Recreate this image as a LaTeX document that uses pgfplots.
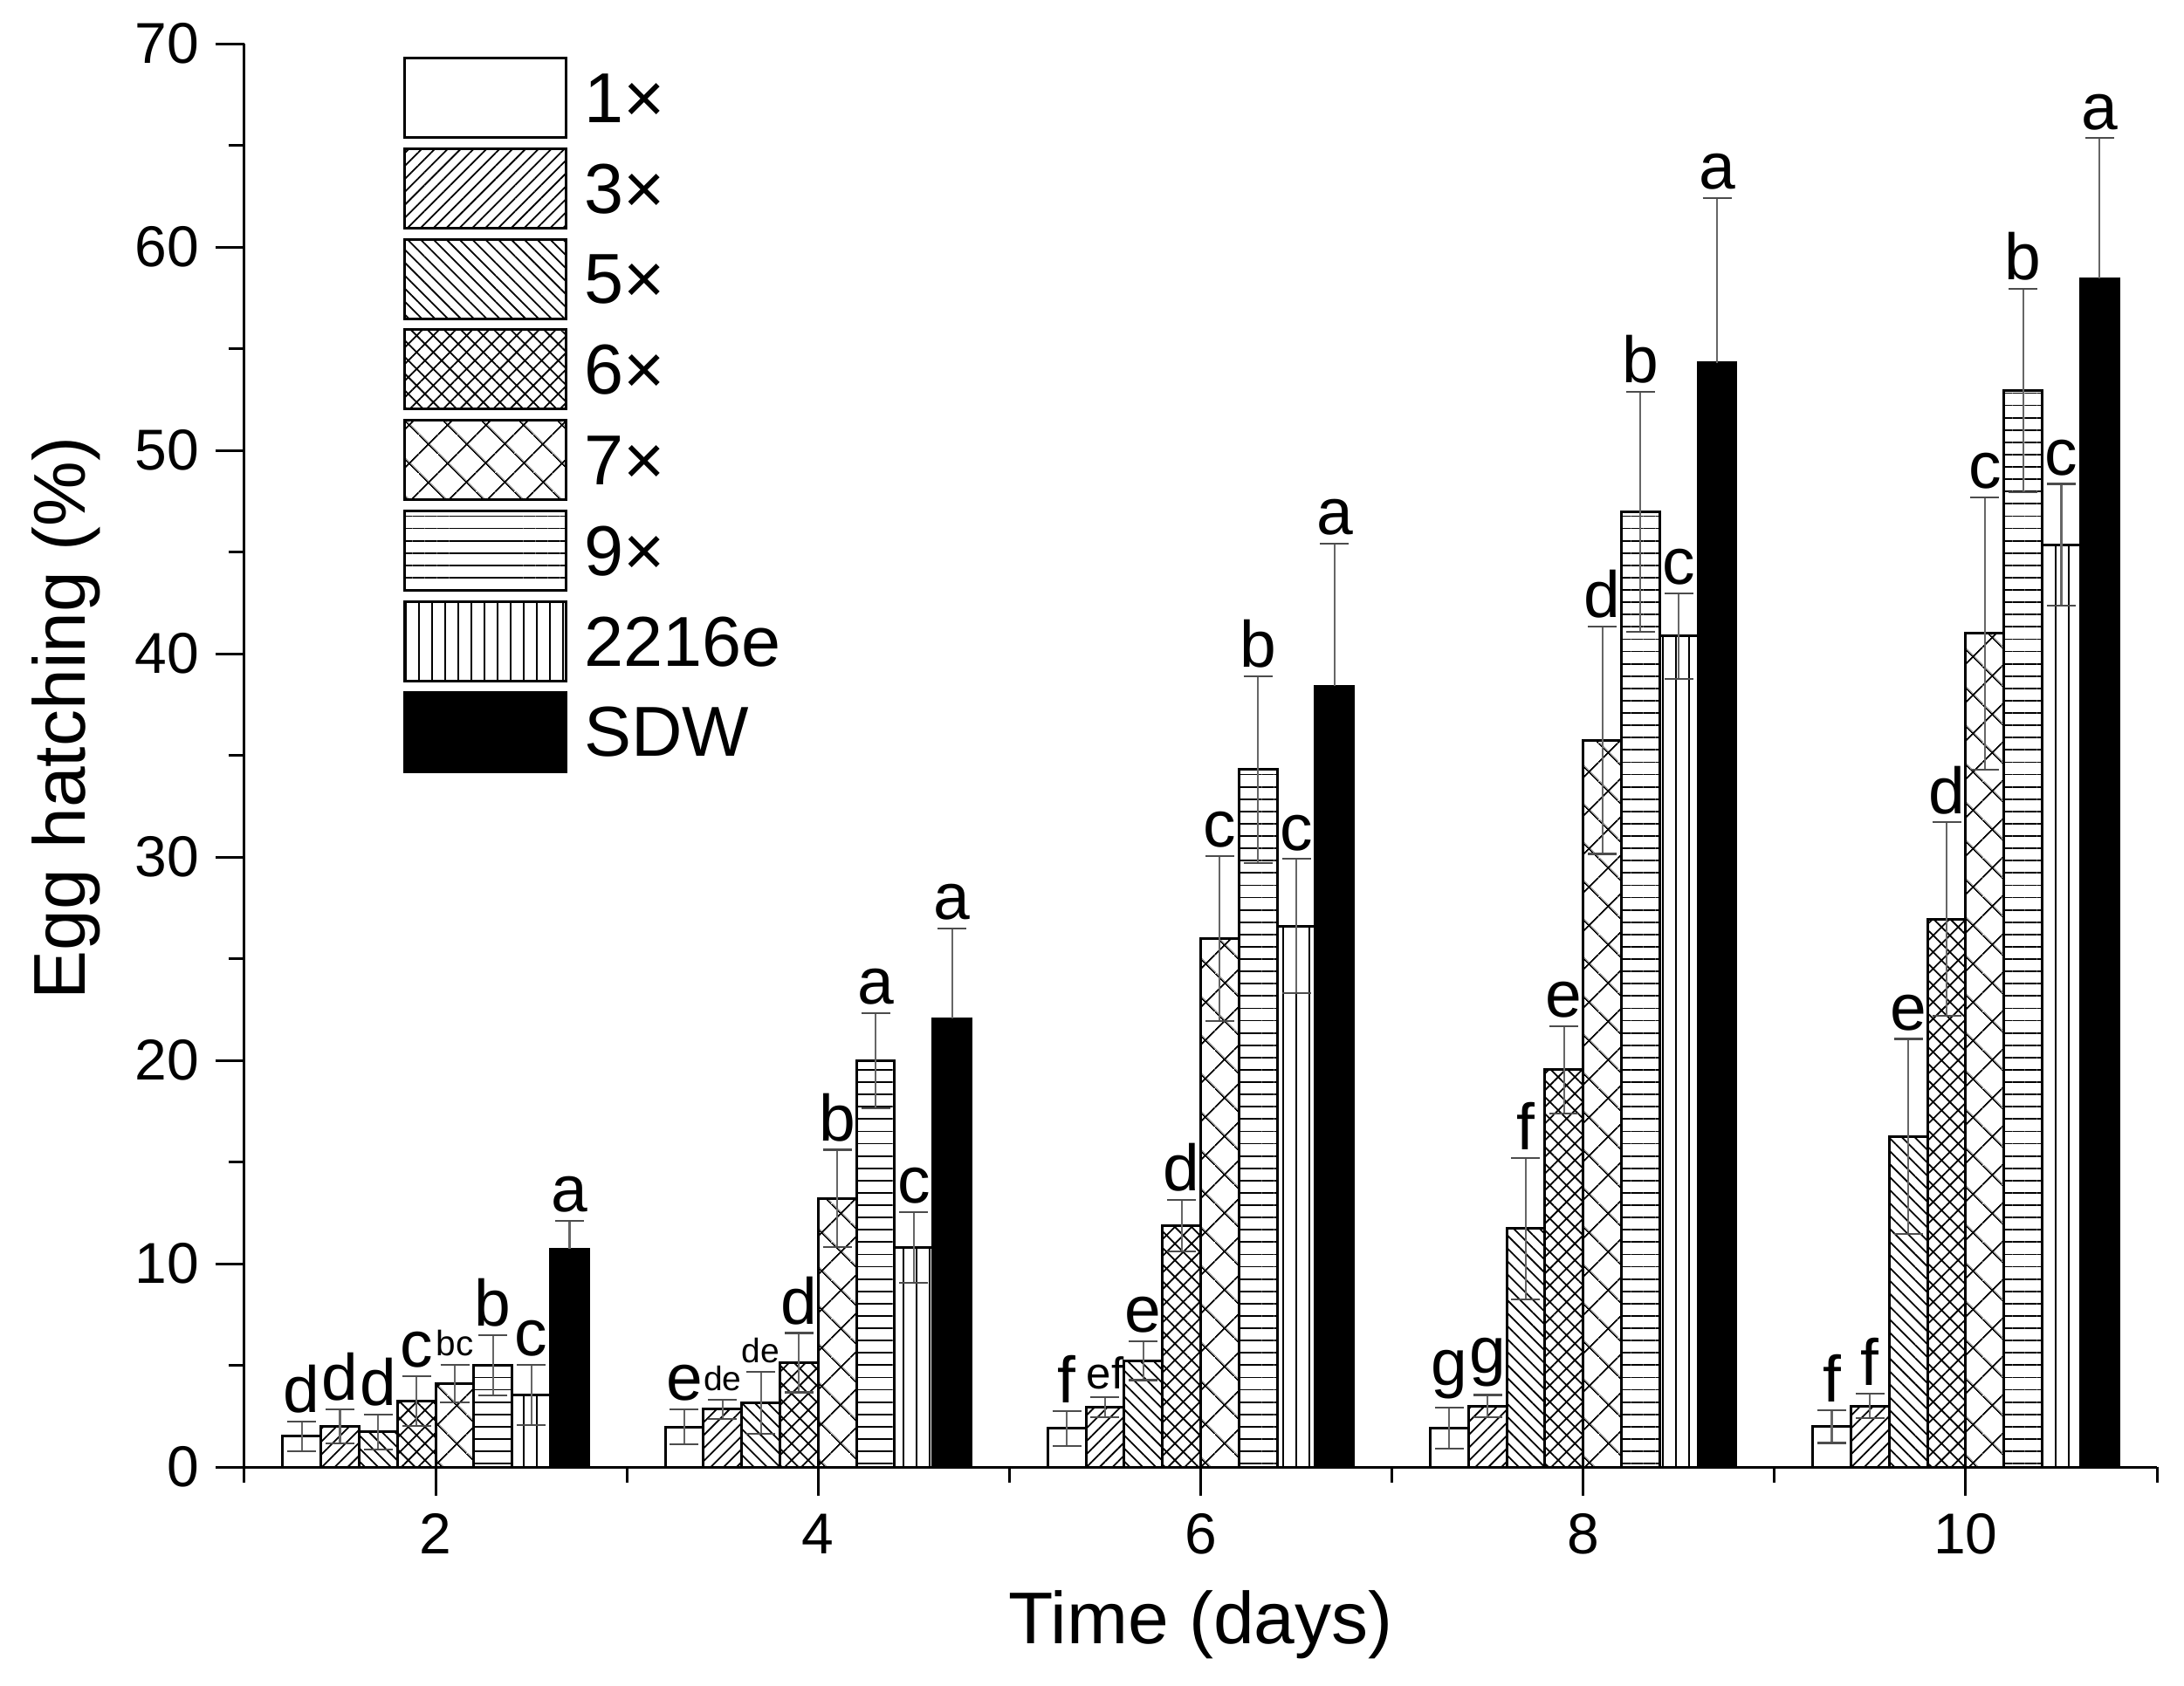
\documentclass[border=0pt]{standalone}
\usepackage{fontspec}
\setmainfont{Liberation Sans}
\usepackage{pgfplots}
\usepackage{pgfplotstable}
\pgfplotsset{compat=1.18}
\usetikzlibrary{patterns.meta}
\protected\def\sm#1#2{{\fontsize{#1}{#1}\selectfont #2}}

% x = day + offset, y = mean, e = error, lab = letter
\pgfplotstableread{
x y e lab
1.3 1.51 0.72 d
3.3 1.97 0.87 e
5.3 1.90 0.85 f
7.3 1.92 1.00 g
9.3 1.98 0.80 f
}\tA
\pgfplotstableread{
x y e lab
1.5 2.01 0.84 d
3.5 2.84 0.48 \sm{13}{de}
5.5 2.94 0.48 \sm{17}{ef}
7.5 2.99 0.55 g
9.5 3.00 0.60 f
}\tB
\pgfplotstableread{
x y e lab
1.7 1.73 0.86 d
3.7 3.17 1.52 \sm{13}{de}
5.7 5.22 0.95 e
7.7 11.73 3.47 f
9.7 16.25 4.80 e
}\tC
\pgfplotstableread{
x y e lab
1.9 3.24 1.22 c
3.9 5.13 1.46 d
5.9 11.87 1.25 d
7.9 19.54 2.15 e
9.9 26.95 4.75 d
}\tD
\pgfplotstableread{
x y e lab
2.1 4.10 0.94 \sm{13.5}{bc}
4.1 13.20 2.40 b
6.1 26.00 4.05 c
8.1 35.75 5.60 d
10.1 41.00 6.70 c
}\tE
\pgfplotstableread{
x y e lab
2.3 4.99 1.48 b
4.3 19.98 2.35 a
6.3 34.30 4.60 b
8.3 46.97 5.90 b
10.3 52.95 5.00 b
}\tF
\pgfplotstableread{
x y e lab
2.5 3.55 1.49 c
4.5 10.80 1.75 c
6.5 26.60 3.30 c
8.5 40.87 2.10 c
10.5 45.35 3.00 c
}\tG
\pgfplotstableread{
x y e lab
2.7 10.72 1.37 a
4.7 22.05 4.45 a
6.7 38.40 7.00 a
8.7 54.30 8.10 a
10.7 58.45 6.90 a
}\tH

\pgfplotsset{
  barbase/.style={ybar, bar width=0.2, bar shift=0pt, draw=black, line width=1pt,
    error bars/.cd, y dir=both, y explicit,
    error bar style={line width=0.7pt, black!60},
    error mark options={rotate=90, mark size=5.5pt, line width=0.7pt, black!70},
    /pgfplots/.cd,
    legend image code/.code={\draw[##1, line width=1pt] (0pt,-5.7pt) rectangle (61.7pt,24.6pt);}},
  labs/.style={forget plot, draw=none, nodes near coords={\pgfplotspointmeta},
    point meta=explicit symbolic,
    every node near coord/.style={anchor=south, inner sep=0pt, yshift=3pt,
      font=\fontsize{25}{30}\selectfont, black}},
}

\begin{document}
\begin{tikzpicture}
\begin{axis}[
  at={(0,0)}, anchor=south west,
  scale only axis, width=730.33pt, height=543.67pt,
  xmin=1, xmax=11, ymin=0, ymax=70,
  axis x line=bottom, axis y line=left,
  axis line style={line width=1pt, -},
  xtick={2,4,6,8,10}, minor xtick={1,3,5,7,9,11},
  ytick={0,10,...,70}, minor ytick={5,15,...,65},
  tick align=outside,
  major tick length=11pt, minor tick length=6pt,
  tick style={line width=1pt, black},
  ticklabel style={font=\fontsize{22}{26}\selectfont, inner sep=0pt},
  xticklabel style={yshift=-6.7pt},
  yticklabel style={xshift=-6pt},
  /pgf/number format/assume math mode=true,
  xlabel={Time (days)}, ylabel={Egg hatching (\%)},
  label style={font=\fontsize{28}{33}\selectfont, inner sep=0pt},
  xlabel style={at={(axis description cs:0.5,-0.0864)}, anchor=north},
  ylabel style={at={(axis description cs:-0.1115,0.5261)}, anchor=north},
  clip=false,
  legend style={at={(0.0831,0.9908)}, anchor=north west, draw=none, fill=none,
    inner sep=0pt, outer sep=0pt, row sep=3.3pt,
    font=\fontsize{27}{31}\selectfont,
    cells={anchor=base west, inner sep=0pt},
    /tikz/every odd column/.append style={column sep=4.4pt}},
]
\addplot[barbase, fill=white] table[x=x,y=y,y error=e]{\tA};
\addlegendentry{1×}
\addplot[barbase, pattern={Lines[angle=45,distance=3.5pt,line width=0.6pt]}] table[x=x,y=y,y error=e]{\tB};
\addlegendentry{3×}
\addplot[barbase, pattern={Lines[angle=-45,distance=3.5pt,line width=0.6pt]}] table[x=x,y=y,y error=e]{\tC};
\addlegendentry{5×}
\addplot[barbase, pattern={Hatch[angle=45,distance=4.5pt,line width=0.6pt]}] table[x=x,y=y,y error=e]{\tD};
\addlegendentry{6×}
\addplot[barbase, pattern={Hatch[angle=45,distance=10.5pt,line width=0.6pt]}] table[x=x,y=y,y error=e]{\tE};
\addlegendentry{7×}
\addplot[barbase, pattern={Lines[angle=0,distance=4.7pt,line width=0.6pt]}] table[x=x,y=y,y error=e]{\tF};
\addlegendentry{9×}
\addplot[barbase, pattern={Lines[angle=90,distance=5pt,line width=0.6pt]}] table[x=x,y=y,y error=e]{\tG};
\addlegendentry{2216e}
\addplot[barbase, fill=black, error bars/y dir=plus] table[x=x,y=y,y error=e]{\tH};
\addlegendentry{SDW}

\addplot[labs] table[x=x, y expr=\thisrow{y}+\thisrow{e}, meta=lab]{\tA};
\addplot[labs] table[x=x, y expr=\thisrow{y}+\thisrow{e}, meta=lab]{\tB};
\addplot[labs] table[x=x, y expr=\thisrow{y}+\thisrow{e}, meta=lab]{\tC};
\addplot[labs] table[x=x, y expr=\thisrow{y}+\thisrow{e}, meta=lab]{\tD};
\addplot[labs] table[x=x, y expr=\thisrow{y}+\thisrow{e}, meta=lab]{\tE};
\addplot[labs] table[x=x, y expr=\thisrow{y}+\thisrow{e}, meta=lab]{\tF};
\addplot[labs] table[x=x, y expr=\thisrow{y}+\thisrow{e}, meta=lab]{\tG};
\addplot[labs] table[x=x, y expr=\thisrow{y}+\thisrow{e}, meta=lab]{\tH};
\end{axis}
\pgfresetboundingbox
\path[use as bounding box] (-93.33pt,-83.33pt) rectangle (740.67pt,560.33pt);
\end{tikzpicture}
\end{document}
